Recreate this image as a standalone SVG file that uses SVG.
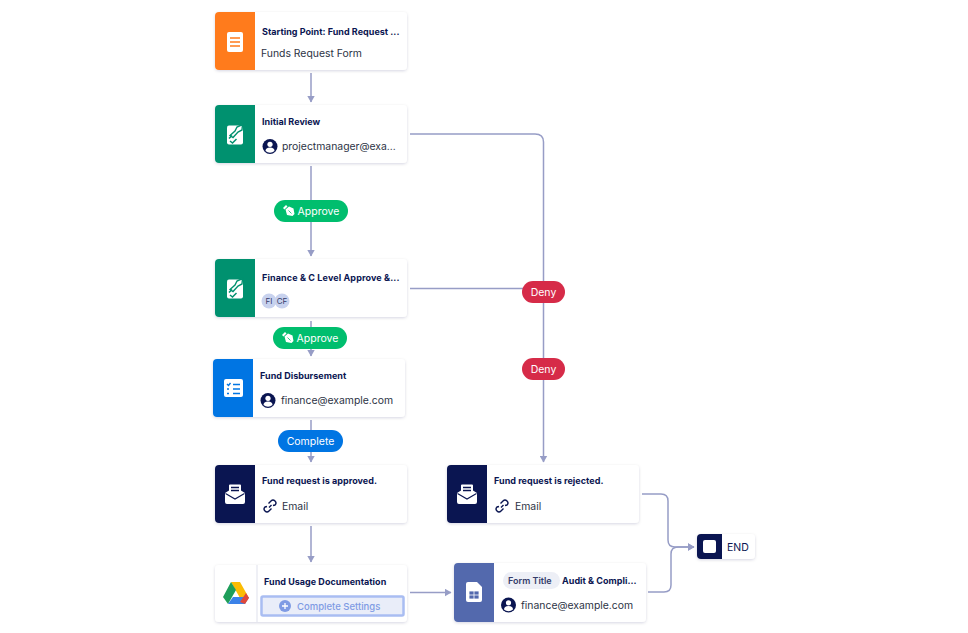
<svg xmlns="http://www.w3.org/2000/svg" width="968" height="633" viewBox="0 0 968 633">
<style>
text{font-family:"Inter","Liberation Sans",sans-serif}
.card{fill:#fff;filter:url(#sh)}
.t{font-size:9px;font-weight:700;fill:#0a1551;letter-spacing:.03px}
.s{font-size:10.400px;fill:#2c3345}
.lab{font-size:10.500px;fill:#fff;text-anchor:middle}
.conn{fill:none;stroke:#979dc6;stroke-width:1.500}
.ic{fill:#fff}
.u{fill:#0a1551}
</style>
<defs>
<filter id="sh" x="-10%" y="-20%" width="120%" height="150%"><feDropShadow dx="0" dy="1" stdDeviation="1.500" flood-color="#0a1551" flood-opacity="0.16"/></filter>
<marker id="a" markerWidth="7" markerHeight="8" refX="6.500" refY="4" orient="auto" markerUnits="userSpaceOnUse"><path d="M0 0L7 4L0 8Z" fill="#979dc6"/></marker>
<g id="user"><circle r="7.500" class="u"/><circle cy="-2.200" r="2.600" fill="#fff"/><path d="M-4.500 4.500a4.500 3.600 0 0 1 9 0a7 7 0 0 1-9 0Z" fill="#fff"/></g>
<g id="link"><path d="M-1 1.500L1.500-1M-1.500-2.500L1-5a2.700 2.700 0 0 1 4 4L3-.5M1.500 2.500L-1 5a2.700 2.700 0 0 1-4-4L-3 .5" fill="none" stroke="#0a1551" stroke-width="1.400"/></g>
<g id="mail"><path d="M-10-2L-6-4.500V-9.500a1 1 0 0 1 1-1H5a1 1 0 0 1 1 1V-4.500L10-2V7a2 2 0 0 1-2 2H-8a2 2 0 0 1-2-2Z" class="ic"/><path d="M-9.500-1.500L0 4L9.500-1.500" fill="none" stroke="#0a1551" stroke-width="1.100"/><path d="M-4-7.500H4M-4-4.500H4" stroke="#0a1551" stroke-width="1.300"/></g>
<g id="sign"><rect x="-8" y="-8.500" width="16" height="19" rx="2" class="ic"/><path d="M-5 7L-2.500 9L1.500 5" fill="none" stroke="#00916f" stroke-width="1.500"/><path d="M-5 1.500L0-3L2-7L7.500-9.500L7-4L3-2L-2 3.500Z" fill="#fff" stroke="#00916f" stroke-width="1.400"/><path d="M-6 4.500L-3 1.500" stroke="#00916f" stroke-width="1.600"/></g>
<g id="pen"><path d="M-3.500-1.500L0-4.500L4.500-2.500L5.500 3L3.500 5L-2 4Z" fill="#fff"/><path d="M-3-6L-6-3L-4.500-1.500L-1.500-4.500Z" fill="#fff"/><path d="M-.5-.5L2.500 2.500" stroke="#00be6e" stroke-width=".8"/></g>
</defs>

<g id="connectors">
<path class="conn" d="M311 73V102" marker-end="url(#a)"/>
<path class="conn" d="M311 166V256" marker-end="url(#a)"/>
<path class="conn" d="M311 321V356" marker-end="url(#a)"/>
<path class="conn" d="M311 420V462" marker-end="url(#a)"/>
<path class="conn" d="M311 526V562" marker-end="url(#a)"/>
<path class="conn" d="M410 134H535Q543.500 134 543.500 142V462" marker-end="url(#a)"/>
<path class="conn" d="M410 288.500H530"/>
<path class="conn" d="M410 592.500H451" marker-end="url(#a)"/>
<path class="conn" d="M642 494H661Q668 494 668 501V540Q668 547 675 547H694" marker-end="url(#a)"/>
<path class="conn" d="M648 592H664Q671 592 671 585V554Q671 547 678 547H694" marker-end="url(#a)"/>
</g>

<g id="n1"><rect class="card" x="215" y="12" width="192" height="58" rx="4"/><path d="M255 12H219a4 4 0 0 0-4 4V66a4 4 0 0 0 4 4H255Z" fill="#ff7b1c"/><rect x="227" y="32" width="16" height="20" rx="2" class="ic"/><path d="M230 38H240M230 42H240M230 46H240" stroke="#ff7b1c" stroke-width="1.500"/><text class="t" x="262" y="35">Starting Point: Fund Request ...</text><text class="s" x="261" y="57">Funds Request Form</text></g>

<g id="n2"><rect class="card" x="215" y="105" width="192" height="58" rx="4"/><path d="M255 105H219a4 4 0 0 0-4 4V159a4 4 0 0 0 4 4H255Z" fill="#00916f"/><use href="#sign" x="235" y="134"/><text class="t" x="262" y="125">Initial Review</text><use href="#user" x="270" y="146.500"/><text class="s" x="282" y="150">projectmanager@exa...</text></g>

<g id="n3"><rect class="card" x="215" y="259" width="192" height="58" rx="4"/><path d="M255 259H219a4 4 0 0 0-4 4V313a4 4 0 0 0 4 4H255Z" fill="#00916f"/><use href="#sign" x="235" y="288"/><text class="t" x="262" y="281" style="letter-spacing:.12px">Finance &amp; C Level Approve &amp;...</text><circle cx="269" cy="301" r="7.500" fill="#c8d2ee"/><text x="269" y="304" font-size="8" fill="#343c6a" text-anchor="middle">FI</text><circle cx="282" cy="301" r="7.500" fill="#c8d2ee"/><text x="282" y="304" font-size="8" fill="#343c6a" text-anchor="middle">CF</text></g>

<g id="n4"><rect class="card" x="213" y="359" width="192" height="58" rx="4"/><path d="M253 359H217a4 4 0 0 0-4 4V413a4 4 0 0 0 4 4H253Z" fill="#0075e3"/><rect x="224" y="379" width="19" height="18" rx="2" class="ic"/><path d="M227 384l1.500 1.500 2-2.500M233 384.500H240M227 389H229M233 389H240M227 393.500H229M233 393.500H240" fill="none" stroke="#0075e3" stroke-width="1.400"/><text class="t" x="260" y="379">Fund Disbursement</text><use href="#user" x="268" y="400.500"/><text class="s" x="281" y="404">finance@example.com</text></g>

<g id="n5"><rect class="card" x="215" y="465" width="192" height="58" rx="4"/><path d="M255 465H219a4 4 0 0 0-4 4V519a4 4 0 0 0 4 4H255Z" fill="#0a1551"/><use href="#mail" x="235" y="495"/><text class="t" x="262" y="484">Fund request is approved.</text><use href="#link" x="270" y="506"/><text class="s" x="282" y="509.500">Email</text></g>

<g id="n6"><rect class="card" x="215" y="565" width="192" height="57" rx="4"/><path d="M257 565V622" stroke="#dfe1ec" stroke-width="1"/><path d="M231 582H240L249 598H240Z" fill="#fbbc04"/><path d="M231 582L223 597L228 604L236 590Z" fill="#1e9e5a"/><path d="M228 604L233 597H249L245 604Z" fill="#3b82e8"/><path d="M245 604L249 598L246 593L240 602Z" fill="#e0483a"/><text class="t" x="264" y="585">Fund Usage Documentation</text><rect x="261.500" y="596.500" width="142" height="19" rx="1.500" fill="#e9edf9" stroke="#a9bdf2" stroke-width="2.500"/><circle cx="285" cy="606" r="6" fill="#7f9be4"/><path d="M282 606H288M285 603V609" stroke="#fff" stroke-width="1.300"/><text x="297" y="609.500" font-size="9.500" font-weight="500" fill="#7f9be4">Complete Settings</text></g>

<g id="n7"><rect class="card" x="447" y="465" width="192" height="58" rx="4"/><path d="M487 465H451a4 4 0 0 0-4 4V519a4 4 0 0 0 4 4H487Z" fill="#0a1551"/><use href="#mail" x="467" y="495"/><text class="t" x="494" y="484">Fund request is rejected.</text><use href="#link" x="502" y="506"/><text class="s" x="515" y="509.500">Email</text></g>

<g id="n8"><rect class="card" x="454" y="563" width="192" height="59" rx="4"/><path d="M494 563H458a4 4 0 0 0-4 4V618a4 4 0 0 0 4 4H494Z" fill="#5369ad"/><path d="M468 582H477L482 587V600a2 2 0 0 1-2 2H468a2 2 0 0 1-2-2V584a2 2 0 0 1 2-2Z" class="ic"/><path d="M469 591H479V599H469ZM469 595H479M474 591V599" fill="#5369ad" stroke="#fff" stroke-width=".8"/><rect x="503" y="572" width="57" height="17" rx="8.500" fill="#edeff6"/><text x="508" y="584" font-size="9" font-weight="600" fill="#343c6a">Form Title</text><text class="t" x="562" y="584">Audit &amp; Compli...</text><use href="#user" x="508.500" y="605"/><text class="s" x="521" y="608.500">finance@example.com</text></g>

<g id="n9"><rect class="card" x="697" y="534" width="58" height="25" rx="4"/><path d="M722 534H701a4 4 0 0 0-4 4V555a4 4 0 0 0 4 4H722Z" fill="#0a1551"/><rect x="703" y="540" width="13" height="13" rx="2" class="ic"/><text x="727" y="551" font-size="10.500" fill="#0a1551">END</text></g>

<g id="l1"><rect x="274" y="200" width="74" height="22" rx="11" fill="#00be6e"/><use href="#pen" x="289" y="211"/><text class="lab" x="318.500" y="215">Approve</text></g>
<g id="l2"><rect x="273" y="327" width="74" height="22" rx="11" fill="#00be6e"/><use href="#pen" x="288" y="338"/><text class="lab" x="317.500" y="342">Approve</text></g>
<g id="l3"><rect x="278" y="430" width="65" height="22" rx="11" fill="#0075e3"/><text class="lab" x="310.500" y="445">Complete</text></g>
<g id="l4"><rect x="522" y="281" width="43" height="22" rx="11" fill="#d62b48"/><text class="lab" x="543.500" y="296">Deny</text></g>
<g id="l5"><rect x="522" y="358" width="43" height="22" rx="11" fill="#d62b48"/><text class="lab" x="543.500" y="373">Deny</text></g>
</svg>
